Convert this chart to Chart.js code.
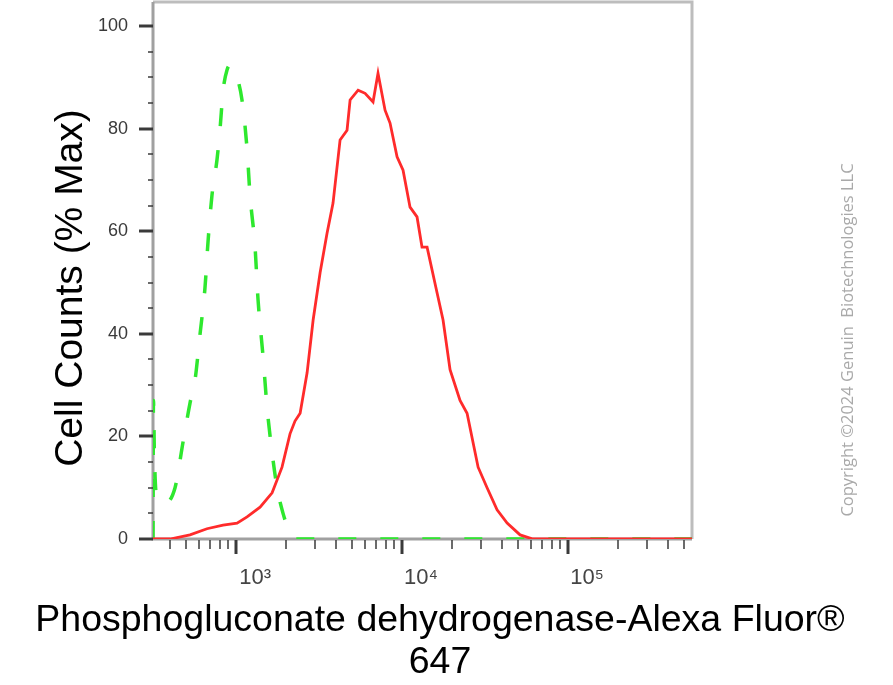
<!DOCTYPE html>
<html>
<head>
<meta charset="utf-8">
<script src="https://cdn.jsdelivr.net/npm/chart.js@4.4.1/dist/chart.umd.min.js"></script>
<style>
  html, body { margin: 0; padding: 0; background: #fff; }
  canvas { display: block; }
</style>
</head>
<body>
<canvas id="histo" width="893" height="685"></canvas>
<script>
// intensity (x) and cell counts as % of max (y)
const stainedX = [316, 400, 528, 668, 835, 1014, 1165, 1395, 1649, 1892, 2114, 2265, 2432, 2679, 2913, 3208, 3533, 3839, 4233, 4663, 4864, 5436, 5988, 6687, 7165, 7900, 8465, 9330, 10140, 11170, 12310, 13190, 14150, 16250, 17660, 19460, 22350, 24640, 28720, 32520, 37360, 42950, 51400, 61500, 558000];
const stainedY = [0, 0, 0.8, 2, 2.7, 3.1, 4.3, 6.2, 9, 14, 20.5, 23, 24.5, 32.4, 42.7, 51.9, 59.6, 65.5, 77.8, 79.7, 85.6, 87.5, 86.9, 85.2, 90.8, 83.6, 81.1, 74.5, 71.9, 64.7, 62.8, 56.9, 56.9, 48, 42.7, 33, 27, 24.5, 14, 10, 5.7, 3.1, 0.8, 0, 0];

const isotypeX = [316, 318, 322, 330, 373, 429, 480, 528, 566, 607, 650, 678, 716, 768, 801, 836, 883, 920, 946, 1014, 1087, 1165, 1214, 1301, 1357, 1455, 1537, 1649, 1767, 1919, 2114, 2265, 558000];
const isotypeY = [0, 27, 17, 9, 7, 10, 19, 26.5, 31, 40, 49, 58, 67, 74, 80, 87.5, 91.5, 92.4, 92, 90, 85.5, 76, 67, 57, 46.6, 35.5, 25.7, 16.8, 10, 5, 1.2, 0, 0];

const yLabelValues = [0, 20, 40, 60, 80, 100];
const decadeLabels = { 1000: "10³", 10000: "10⁴", 100000: "10⁵" };
const xTitle = ["Phosphogluconate dehydrogenase-Alexa Fluor®", "647"];
const yTitle = "Cell Counts (% Max)";
const copyright = "Copyright ©2024 Genuin  Biotechnologies LLC";

const FONT = "'Liberation Sans', Arial, 'DejaVu Sans', sans-serif";
const X_MIN = 316, X_MAX = 558000;

const toPoints = (xs, ys) => xs.map((x, i) => ({ x: x, y: ys[i] }));

// frame around the plot: darker axes on left/bottom, lighter on top/right
const frame = {
  id: "frame",
  beforeDatasetsDraw(chart) {
    const { ctx, chartArea: a } = chart;
    ctx.save();
    ctx.lineWidth = 3;
    ctx.strokeStyle = "#bdbdbd";
    ctx.beginPath();
    ctx.moveTo(a.left, a.top);
    ctx.lineTo(a.right, a.top);
    ctx.lineTo(a.right, a.bottom);
    ctx.stroke();
    ctx.strokeStyle = "#a0a0a0";
    ctx.beginPath();
    ctx.moveTo(a.left, a.top);
    ctx.lineTo(a.left, a.bottom);
    ctx.lineTo(a.right, a.bottom);
    ctx.stroke();
    ctx.restore();
  }
};

// tick marks: long ones at labelled values, short ones between
const tickMarks = {
  id: "tickMarks",
  afterDraw(chart) {
    const { ctx, chartArea: a, scales } = chart;
    ctx.save();
    ctx.strokeStyle = "#3a3a3a";
    scales.y.ticks.forEach((t) => {
      const py = Math.round(scales.y.getPixelForValue(t.value));
      const major = t.value % 20 === 0;
      ctx.lineWidth = major ? 3 : 1.5;
      ctx.beginPath();
      ctx.moveTo(a.left - (major ? 14 : 5), py);
      ctx.lineTo(a.left, py);
      ctx.stroke();
    });
    scales.x.ticks.forEach((t) => {
      const px = Math.round(scales.x.getPixelForValue(t.value));
      const major = decadeLabels[t.value] !== undefined;
      ctx.lineWidth = major ? 3 : 1.5;
      ctx.beginPath();
      ctx.moveTo(px, a.bottom + 1);
      ctx.lineTo(px, a.bottom + (major ? 15 : 10));
      ctx.stroke();
    });
    ctx.restore();
  }
};

// y title and the vertical copyright note
const sideTexts = {
  id: "sideTexts",
  afterDraw(chart) {
    const ctx = chart.ctx;
    ctx.save();
    ctx.textAlign = "center";
    ctx.textBaseline = "middle";
    ctx.translate(71, 288);
    ctx.rotate(-Math.PI / 2);
    ctx.font = "39px " + FONT;
    ctx.fillStyle = "#000";
    ctx.fillText(yTitle, 0, 0);
    ctx.restore();

    ctx.save();
    ctx.textAlign = "center";
    ctx.textBaseline = "middle";
    ctx.translate(848, 340);
    ctx.rotate(-Math.PI / 2);
    ctx.font = "16.5px 'Open Sans', sans-serif";
    ctx.fillStyle = "#a9a9a9";
    ctx.fillText(copyright, 0, 0);
    ctx.restore();
  }
};

new Chart(document.getElementById("histo"), {
  type: "line",
  data: {
    datasets: [
      {
        label: "Stained",
        data: toPoints(stainedX, stainedY),
        borderColor: "#ff2b2b",
        borderWidth: 2.8,
        pointRadius: 0,
        tension: 0,
      },
      {
        label: "Isotype",
        data: toPoints(isotypeX, isotypeY),
        borderColor: "#2ee82e",
        borderWidth: 3.5,
        borderDash: [18, 24],
        pointRadius: 0,
        cubicInterpolationMode: "monotone",
      },
    ],
  },
  options: {
    responsive: false,
    animation: false,
    layout: { autoPadding: false, padding: { left: 0, right: 13, top: 2, bottom: 1 } },
    scales: {
      x: {
        type: "logarithmic",
        min: X_MIN,
        max: X_MAX,
        border: { display: false },
        grid: { display: false, drawTicks: false },
        afterBuildTicks: (scale) => {
          const ticks = [];
          for (let k = 2; k <= 5; k++) {
            for (let n = 1; n <= 9; n++) {
              const v = n * Math.pow(10, k);
              if (v >= X_MIN && v <= X_MAX) ticks.push({ value: v });
            }
          }
          scale.ticks = ticks;
        },
        afterFit: (scale) => {
          scale.height = 61;
          scale.paddingLeft = 0;
          scale.paddingRight = 0;
        },
        ticks: {
          autoSkip: false,
          maxRotation: 0,
          padding: 26,
          labelOffset: 19,
          color: "#444",
          font: { family: FONT, size: 22 },
          callback: (v) => decadeLabels[v] || "",
        },
      },
      y: {
        min: 0,
        max: 104.7,
        border: { display: false },
        grid: { display: false, drawTicks: false },
        afterBuildTicks: (scale) => {
          const ticks = [];
          for (let v = 0; v <= 100; v += 5) ticks.push({ value: v });
          scale.ticks = ticks;
        },
        afterFit: (scale) => {
          scale.width = 153;
          scale.paddingTop = 0;
          scale.paddingBottom = 0;
        },
        ticks: {
          autoSkip: false,
          padding: 25,
          color: "#3a3a3a",
          font: { family: FONT, size: 18 },
          callback: (v) => (yLabelValues.includes(v) ? v : ""),
        },
      },
      spacer: {
        position: "right",
        display: true,
        border: { display: false },
        grid: { display: false, drawTicks: false },
        ticks: { display: false },
        afterFit: (scale) => { scale.width = 188; },
      },
    },
    plugins: {
      legend: { display: false },
      tooltip: { enabled: false },
      title: {
        display: true,
        position: "bottom",
        text: xTitle,
        color: "#000",
        font: { family: FONT, size: 37.5, weight: "normal", lineHeight: 1.12 },
        padding: { top: 0, bottom: 0 },
      },
    },
  },
  plugins: [frame, tickMarks, sideTexts],
});
</script>
</body>
</html>
